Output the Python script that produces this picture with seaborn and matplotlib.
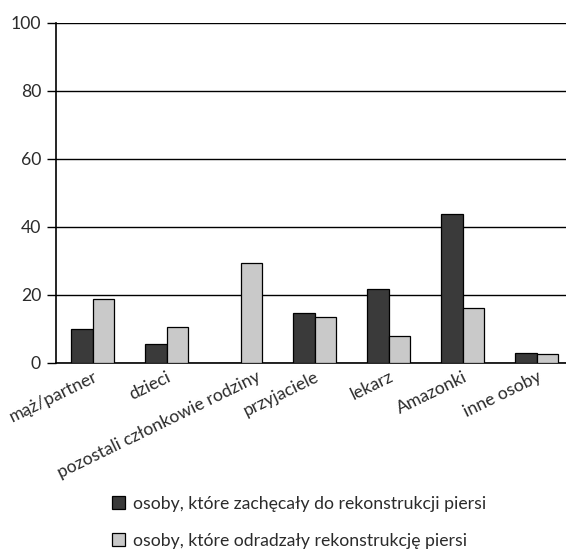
import matplotlib
matplotlib.use("Agg")
import matplotlib.pyplot as plt
import seaborn as sns
import pandas as pd
from matplotlib.patches import Patch

# Kategorie osób i odsetki (%)
categories = ["mąż/partner", "dzieci", "pozostali członkowie rodziny",
              "przyjaciele", "lekarz", "Amazonki", "inne osoby"]
encouraged = [10.1, 5.7, 0.0, 14.7, 21.9, 43.8, 2.8]
discouraged = [18.7, 10.6, 29.5, 13.6, 8.0, 16.3, 2.7]
series_names = ["osoby, które zachęcały do rekonstrukcji piersi",
                "osoby, które odradzały rekonstrukcję piersi"]
y_ticks = [0, 20, 40, 60, 80, 100]

df = pd.DataFrame({
    "kategoria": categories * 2,
    "wartość": encouraged + discouraged,
    "grupa": [series_names[0]] * len(categories) + [series_names[1]] * len(categories),
})

sns.set_theme(style="white")
plt.rcParams["font.family"] = ["Lato", "DejaVu Sans"]
text_color = "#2b2b2b"
fs = 12.7

fig = plt.figure(figsize=(5.66, 5.54), dpi=100)
ax = fig.add_axes([0.0984, 0.3448, 0.915, 0.6137])

colors = ["#3a3a3a", "#c9c9c9"]
sns.barplot(data=df, x="kategoria", y="wartość", hue="grupa",
            palette=colors, width=0.585, gap=0, ax=ax,
            edgecolor="black", linewidth=0.9, legend=False, zorder=3)

ax.set_xlim(-0.5, len(categories) - 0.5)
ax.set_ylim(0, 100)
ax.set_yticks(y_ticks)
ax.set_yticklabels([str(t) for t in y_ticks], fontsize=fs, color=text_color)
ax.set_xlabel("")
ax.set_ylabel("")

# category labels, rotated; the long one is nudged right of its tick
ax.set_xticks(range(len(categories)))
ax.set_xticklabels([])
nudge = {categories[2]: 11.0}
for i, cat in enumerate(categories):
    ax.annotate(cat, xy=(i, 0), xycoords=("data", "axes fraction"),
                xytext=(nudge.get(cat, 0.0), -4), textcoords="offset points",
                rotation=26, ha="right", va="top", rotation_mode="anchor",
                fontsize=fs, color=text_color, annotation_clip=False)

ax.yaxis.grid(True, color="black", linewidth=1.0, zorder=0)
ax.set_axisbelow(True)
ax.tick_params(axis="y", direction="out", length=6.5, width=1.0, color="black", pad=4, left=True)
ax.tick_params(axis="x", length=0)
for side in ["top", "right"]:
    ax.spines[side].set_visible(False)
for side in ["left", "bottom"]:
    ax.spines[side].set_color("black")
    ax.spines[side].set_linewidth(1.2)

handles = [Patch(facecolor=c, edgecolor="black", linewidth=0.9) for c in colors]
fig.legend(handles, series_names, loc="upper left", bbox_to_anchor=(0.198, 0.105),
           frameon=False, fontsize=fs, labelcolor=text_color,
           handlelength=0.75, handleheight=0.75, handletextpad=0.45,
           labelspacing=1.2, borderaxespad=0, borderpad=0)

fig.savefig("out.png", dpi=100, facecolor="white")
